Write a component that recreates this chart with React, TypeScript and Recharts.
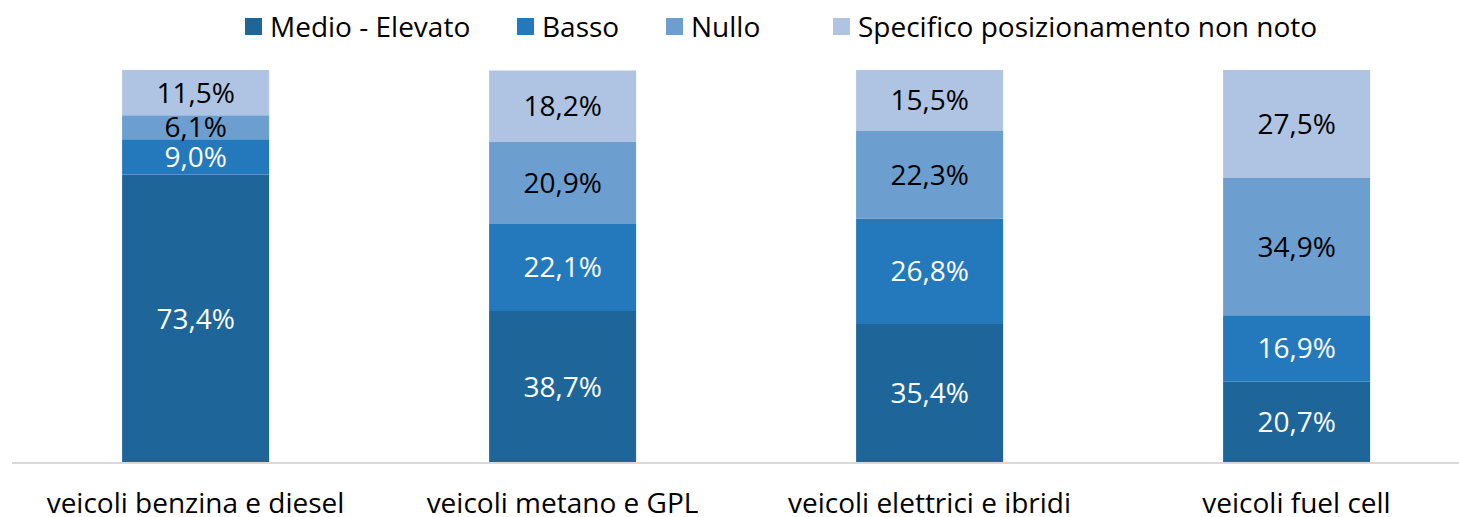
import React from 'react';
import { BarChart, Bar, XAxis, YAxis, Legend, LabelList } from 'recharts';

const categories = ['veicoli benzina e diesel', 'veicoli metano e GPL', 'veicoli elettrici e ibridi', 'veicoli fuel cell'];
const medioElevato = [73.4, 38.7, 35.4, 20.7];
const basso = [9.0, 22.1, 26.8, 16.9];
const nullo = [6.1, 20.9, 22.3, 34.9];
const nonNoto = [11.5, 18.2, 15.5, 27.5];

const SERIES = [
  { key: 'medio', name: 'Medio - Elevato', color: '#1E6599', label: '#ffffff', x: 0 },
  { key: 'basso', name: 'Basso', color: '#2479BC', label: '#ffffff', x: 272 },
  { key: 'nullo', name: 'Nullo', color: '#6C9FD0', label: '#000000', x: 421 },
  { key: 'nonNoto', name: 'Specifico posizionamento non noto', color: '#AFC4E3', label: '#000000', x: 588 },
];

const data = categories.map((name, i) => ({
  name,
  medio: medioElevato[i],
  basso: basso[i],
  nullo: nullo[i],
  nonNoto: nonNoto[i],
}));

const FONT = '"Open Sans", Lato, sans-serif';
const SIZE = 28;
const fmt = (v: any) => `${Number(v).toFixed(1).replace('.', ',')}%`;

const LegendContent = () => (
  <div style={{ position: 'relative', height: 34, fontFamily: FONT, fontSize: SIZE, color: '#000' }}>
    {SERIES.map((s) => (
      <div key={s.key} style={{ position: 'absolute', left: s.x, top: 0, display: 'flex', alignItems: 'center', height: 34, whiteSpace: 'nowrap' }}>
        <span style={{ display: 'inline-block', width: 17, height: 17, background: s.color, marginRight: 8 }} />
        <span>{s.name}</span>
      </div>
    ))}
  </div>
);

const App: React.FC = () => {
  return (
    <div style={{ position: 'absolute', left: 0, top: 0, width: 1459, height: 517, overflow: 'hidden', background: '#fff' }}>
      <BarChart
        width={1480}
        height={517}
        data={data}
        margin={{ top: 36, right: 0, bottom: 0, left: 12 }}
        barCategoryGap="30%"
      >
        <XAxis
          dataKey="name"
          height={54}
          axisLine={{ stroke: '#D9D9D9', strokeWidth: 2 }}
          tickLine={false}
          tickMargin={24}
          interval={0}
          tick={{ fill: '#000', fontSize: SIZE, fontFamily: FONT }}
        />
        <YAxis hide domain={[0, 100]} />
        <Legend
          verticalAlign="top"
          content={<LegendContent />}
          wrapperStyle={{ top: 9, left: 245, width: 1200, height: 34 }}
        />
        {SERIES.map((s) => (
          <Bar key={s.key} dataKey={s.key} name={s.name} stackId="a" fill={s.color} isAnimationActive={false}>
            <LabelList
              dataKey={s.key}
              position="center"
              formatter={fmt}
              style={{ fill: s.label, fontSize: SIZE, fontFamily: FONT }}
            />
          </Bar>
        ))}
      </BarChart>
    </div>
  );
};

export default App;
